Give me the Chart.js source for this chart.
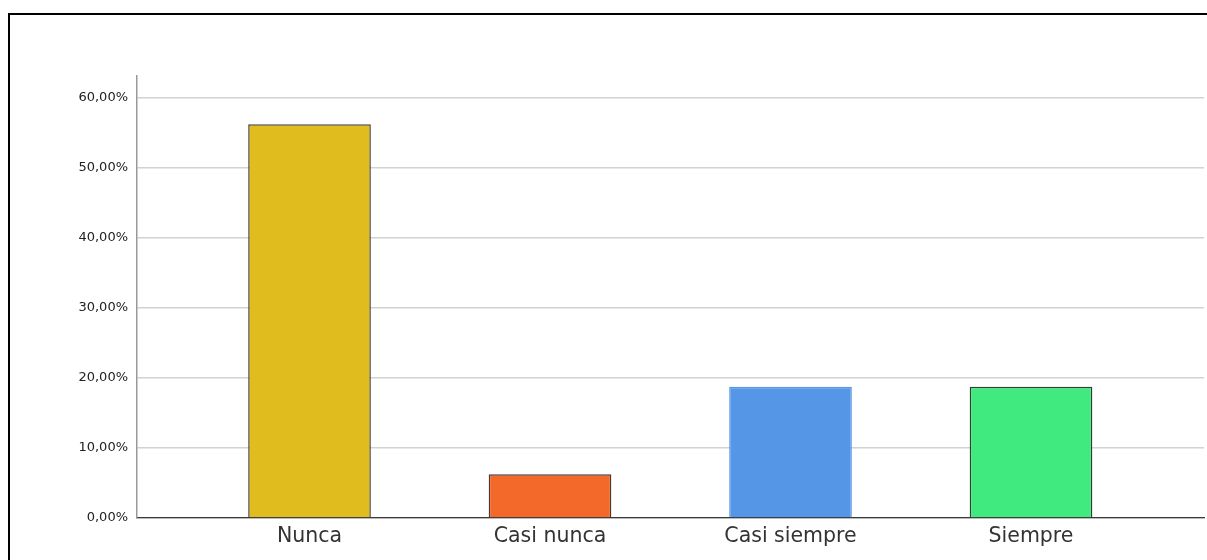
<!DOCTYPE html>
<html>
<head>
<meta charset="utf-8">
<script src="https://cdn.jsdelivr.net/npm/chart.js@4/dist/chart.umd.min.js"></script>
<style>
  html, body { margin: 0; padding: 0; background: #fff; }
  #wrap { position: relative; width: 1207px; height: 560px; overflow: hidden; }
  #frame { position: absolute; left: 8px; top: 13px; width: 1199px; height: 547px;
           border-top: 2px solid #000; border-left: 2px solid #000; pointer-events: none; }
  canvas { position: absolute; left: 0; top: 0; }
</style>
</head>
<body>
<div id="wrap">
  <canvas id="chart" width="1207" height="560"></canvas>
  <div id="frame"></div>
</div>
<script>
const categories = ['Nunca', 'Casi nunca', 'Casi siempre', 'Siempre']
const percents = [56.25, 6.25, 18.75, 18.75]
const yTicks = [0, 10, 20, 30, 40, 50, 60]
const barColors = ['#E1BC1F', '#F2692A', '#5596E6', '#41EA7E']
const barBorders = ['#4a4436', '#4a3a32', '#5596E6', '#2f3f33']

const points = percents.map((v, i) => ({ x: i + 1, y: v }))

const ctx = document.getElementById('chart').getContext('2d')
new Chart(ctx, {
  type: 'bar',
  data: {
    datasets: [{
      data: points,
      backgroundColor: barColors,
      borderColor: barBorders,
      borderWidth: 1.5,
      borderSkipped: 'bottom',
      barPercentage: 0.51,
      categoryPercentage: 1
    }]
  },
  options: {
    responsive: false,
    animation: false,
    layout: { padding: { top: 76, right: 3, left: 0, bottom: 0 } },
    plugins: { legend: { display: false }, tooltip: { enabled: false } },
    scales: {
      x: {
        type: 'linear',
        min: 0.2827,
        max: 4.7193,
        offset: false,
        grid: { display: false, offset: false, drawTicks: false },
        border: { display: true, color: '#3a3a3a', width: 1.2 },
        afterBuildTicks: (s) => { s.ticks = categories.map((_, i) => ({ value: i + 1 })) },
        afterFit: (s) => { s.height = 42 },
        ticks: {
          maxRotation: 0,
          autoSkip: false,
          padding: 6,
          color: '#333',
          font: { family: 'DejaVu Sans, Verdana, sans-serif', size: 20.5 },
          callback: (v) => categories[v - 1] || ''
        }
      },
      y: {
        min: 0,
        max: 63.14,
        grid: { color: '#d2d2d2', lineWidth: 1.5, drawTicks: false },
        border: { display: true, color: '#999', width: 1.5 },
        afterBuildTicks: (s) => { s.ticks = yTicks.map(v => ({ value: v })) },
        afterFit: (s) => { s.width = 137 },
        ticks: {
          padding: 9,
          color: '#222',
          font: { family: 'DejaVu Sans, Verdana, sans-serif', size: 13 },
          callback: (v) => v.toFixed(2).replace('.', ',') + '%'
        }
      }
    }
  }
})
</script>
</body>
</html>
